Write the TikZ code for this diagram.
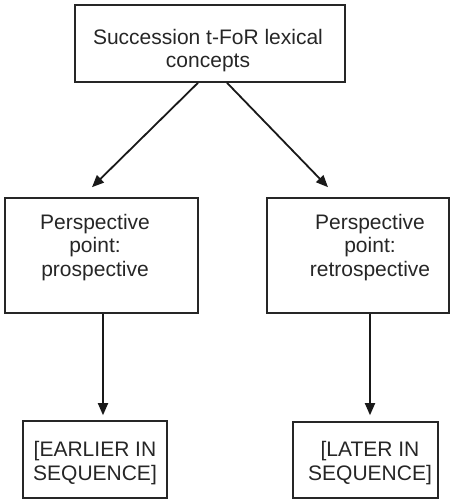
\documentclass[tikz,border=0pt]{standalone}
\usepackage{fontspec}
\setmainfont{Liberation Sans}
\usetikzlibrary{arrows.meta,calc}
\begin{document}
\begin{tikzpicture}[x=1pt,y=-1pt,
  box/.style={draw=black!85,line width=1.6pt,inner sep=0pt},
  txt/.style={align=center,inner sep=0pt,text=black!85,font=\fontsize{21}{23.5}\selectfont},
  conn/.style={draw=black!90,line width=1.8pt,-{Triangle[length=12pt,width=10pt]}}]
\useasboundingbox (0,0) rectangle (454,500);
% boxes
\node[box,minimum width=270pt,minimum height=77pt] (top) at (210,43.5) {};
\node[box,minimum width=193pt,minimum height=115pt] (pro) at (101.5,255.5) {};
\node[box,minimum width=182pt,minimum height=115pt] (retro) at (358,255.5) {};
\node[box,minimum width=144pt,minimum height=77pt] (early) at (95,459.5) {};
\node[box,minimum width=145pt,minimum height=76pt] (late) at (365.5,460) {};
% texts
\node[txt] (toptxt) at (208,50.5) {Succession t-FoR lexical\\concepts};
\node[txt] (protxt) at (95,247.5) {Perspective\\point:\\prospective};
\node[txt] (retrotxt) at (370,247.5) {Perspective\\point:\\retrospective};
\node[txt] (earlytxt) at (95,463) {[EARLIER IN\\SEQUENCE]};
\node[txt] (latetxt) at (370,463) {[LATER IN\\SEQUENCE]};
% connectors
\draw[conn] ($(top.south)+(-12,0)$) -- ($(pro.north)+(-9.5,-10)$);
\draw[conn] ($(top.south)+(17,0)$) -- ($(retro.north)+(-30,-10)$);
\draw[conn] (pro.south -| 103,0) -- ($(early.north -| 103,0)+(0,-5)$);
\draw[conn] (retro.south -| 370,0) -- ($(late.north -| 370,0)+(0,-6)$);
\end{tikzpicture}
\end{document}
